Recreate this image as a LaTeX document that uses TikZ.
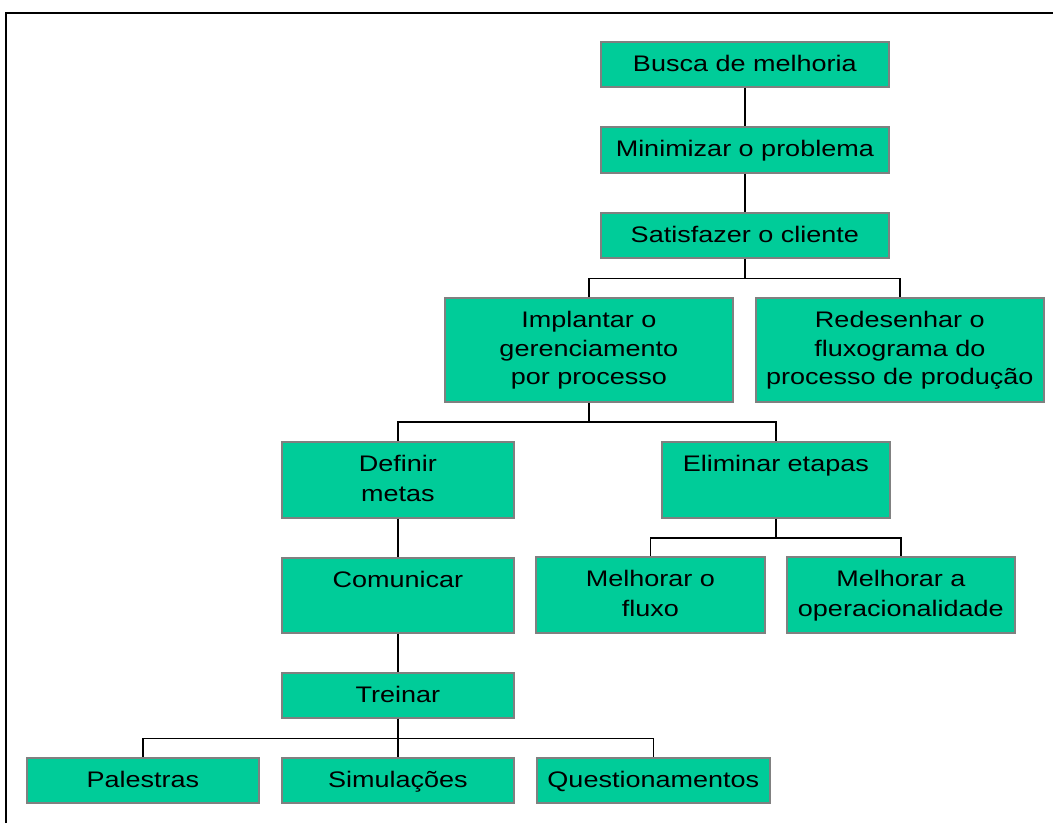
\documentclass[tikz,border=0pt]{standalone}
\usepackage{fontspec}
\setmainfont[FakeStretch=1.2]{Liberation Sans}

\definecolor{boxgreen}{RGB}{0,204,153}
\definecolor{boxgray}{RGB}{128,128,128}

% width, height, line spacing, lines (first baseline 30pt below the top edge)
\newcommand\boxtext[4]{%
  \parbox[c][#2][t]{#1}{\centering\baselineskip=#3\relax\lineskiplimit=-40pt\relax
    \rule{0pt}{30pt}#4\par}}

\tikzset{
  box/.style={draw=boxgray, line width=1.6pt, fill=boxgreen, inner sep=0pt,
    anchor=north west, font=\fontsize{22.5pt}{27pt}\selectfont},
  link/.style={draw=black, line width=1.6pt},
  frame/.style={draw=black, line width=2pt}
}

\begin{document}
\begin{tikzpicture}[x=1pt, y=-1pt]
\useasboundingbox (0,0) rectangle (1053,823);
\fill[white] (0,0) rectangle (1053,823);
\draw[frame] (6,823) -- (6,13) -- (1053,13);

% main chain
\node[box] (busca)  at (600,41)  {\boxtext{288pt}{45pt}{30pt}{Busca de melhoria}};
\node[box] (minim)  at (600,126) {\boxtext{288pt}{46pt}{30pt}{Minimizar o problema}};
\node[box] (satisf) at (600,212) {\boxtext{288pt}{45pt}{30pt}{Satisfazer o cliente}};

% second level
\node[box] (implant) at (444,297) {\boxtext{288pt}{104pt}{28.5pt}{Implantar o\\gerenciamento\\por processo}};
\node[box] (redes)   at (755,297) {\boxtext{288pt}{104pt}{28.5pt}{Redesenhar o\\fluxograma do\\processo de produção}};

% third level
\node[box] (metas)   at (281,441) {\boxtext{232pt}{76pt}{30pt}{Definir\\metas}};
\node[box] (elimin)  at (661,441) {\boxtext{228pt}{76pt}{30pt}{Eliminar etapas}};

\node[box] (fluxo)   at (535,556) {\boxtext{229pt}{76pt}{30pt}{Melhorar o\\fluxo}};
\node[box] (operac)  at (786,556) {\boxtext{228pt}{76pt}{30pt}{Melhorar a\\operacionalidade}};

\node[box] (comun)   at (281,557) {\boxtext{232pt}{75pt}{30pt}{Comunicar}};
\node[box] (treinar) at (281,672) {\boxtext{232pt}{45pt}{30pt}{Treinar}};

% bottom row
\node[box] (palest)  at (26,757)  {\boxtext{232pt}{45pt}{30pt}{Palestras}};
\node[box] (simul)   at (281,757) {\boxtext{232pt}{45pt}{30pt}{Simulações}};
\node[box] (quest)   at (536,757) {\boxtext{233pt}{45pt}{30pt}{Questionamentos}};

% connectors
\draw[link] (busca.south) -- (minim.north);
\draw[link] (minim.south) -- (satisf.north);

\draw[link] (satisf.south) -- ++(0,20) -| (implant.north);
\draw[link] (satisf.south) ++(0,20) -| (redes.north);

\draw[link] (implant.south) -- ++(0,19.5) -| (metas.north);
\draw[link] (implant.south) ++(0,19.5) -| (elimin.north);

\draw[link] (elimin.south) -- ++(0,19.5) -| (fluxo.north);
\draw[link] (elimin.south) ++(0,19.5) -| (operac.north);

\draw[link] (metas.south) -- (comun.north);
\draw[link] (comun.south) -- (treinar.north);

\draw[link] (treinar.south) -- ++(0,20) -| (palest.north);
\draw[link] (treinar.south) -- (simul.north);
\draw[link] (treinar.south) ++(0,20) -| (quest.north);
\end{tikzpicture}
\end{document}
